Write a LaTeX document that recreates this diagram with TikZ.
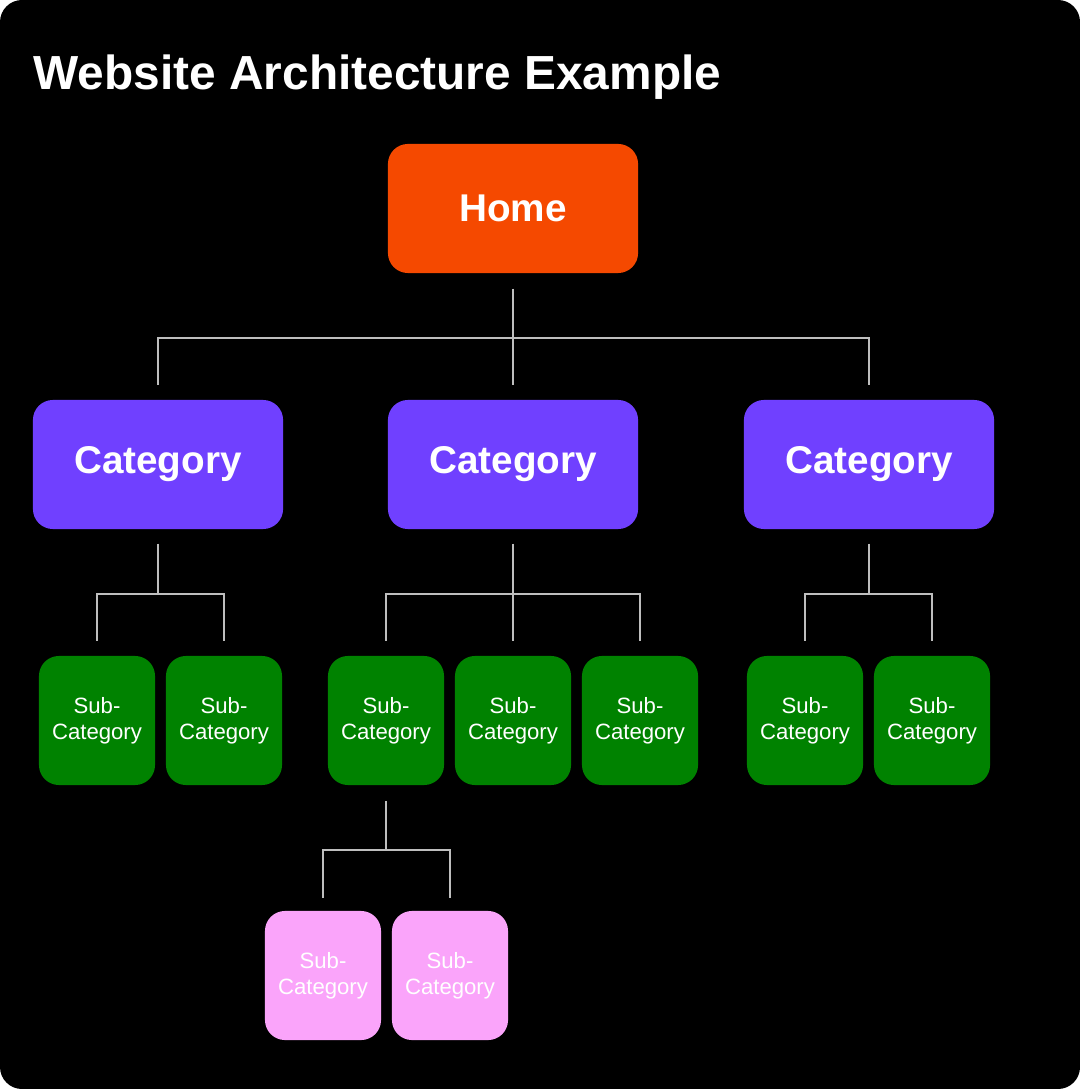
\documentclass[tikz,border=0pt]{standalone}
\usepackage{fontspec}
\setmainfont{Liberation Sans}
\usetikzlibrary{positioning}
\definecolor{homeC}{RGB}{245,73,0}
\definecolor{catC}{RGB}{112,64,255}
\definecolor{subC}{RGB}{0,130,0}
\definecolor{pinkC}{RGB}{250,164,250}
\definecolor{linkC}{RGB}{190,190,190}
\tikzset{
  box/.style={shape=rectangle,rounded corners=0.2cm,text=white,align=center,inner sep=0pt},
  big/.style={box,minimum width=2.5cm,minimum height=1.29cm,font=\bfseries\fontsize{11}{13}\selectfont},
  small/.style={box,minimum width=1.16cm,minimum height=1.29cm,font=\fontsize{6.3}{7.4}\selectfont},
  link/.style={draw=linkC,line width=0.6pt}
}
\begin{document}
\begin{tikzpicture}[x=0.01cm,y=-0.01cm]
    \fill[white] (0,0) rectangle (1080,1089);
    \fill[black,rounded corners=0.22cm] (0,0) rectangle (1080,1089);
    \node[anchor=base west,text=white,font=\bfseries\fontsize{13.6}{16}\selectfont,inner sep=0pt] (title) at (33,90) {Website Architecture Example};
    \node[big,fill=homeC] (home) at (513,208.5) {Home};
    \node[big,fill=catC] (cat1) at (158,464.5) {Category};
    \node[big,fill=catC] (cat2) at (513,464.5) {Category};
    \node[big,fill=catC] (cat3) at (869,464.5) {Category};
    % green sub-categories
    \foreach \n/\x in {s1/97,s2/224,s3/386,s4/513,s5/640,s6/805,s7/932}
      \node[small,fill=subC] (\n) at (\x,720.5) {Sub-\\Category};
    \node[small,fill=pinkC] (p1) at (323,975.5) {Sub-\\Category};
    \node[small,fill=pinkC] (p2) at (450,975.5) {Sub-\\Category};
    % connectors
    \draw[link] ([yshift=-0.15cm]home.south) -- ++(0,49) coordinate (hj);
    \foreach \c in {cat1,cat2,cat3}
      \draw[link] (hj) -| ([yshift=0.14cm]\c.north);
    \draw[link] ([yshift=-0.14cm]cat1.south) -- ++(0,50) coordinate (c1j);
    \foreach \c in {s1,s2}
      \draw[link] (c1j) -| ([yshift=0.14cm]\c.north);
    \draw[link] ([yshift=-0.14cm]cat2.south) -- ++(0,50) coordinate (c2j);
    \foreach \c in {s3,s4,s5}
      \draw[link] (c2j) -| ([yshift=0.14cm]\c.north);
    \draw[link] ([yshift=-0.14cm]cat3.south) -- ++(0,50) coordinate (c3j);
    \foreach \c in {s6,s7}
      \draw[link] (c3j) -| ([yshift=0.14cm]\c.north);
    \draw[link] ([yshift=-0.15cm]s3.south) -- ++(0,49) coordinate (s3j);
    \foreach \c in {p1,p2}
      \draw[link] (s3j) -| ([yshift=0.12cm]\c.north);
\end{tikzpicture}
\end{document}
